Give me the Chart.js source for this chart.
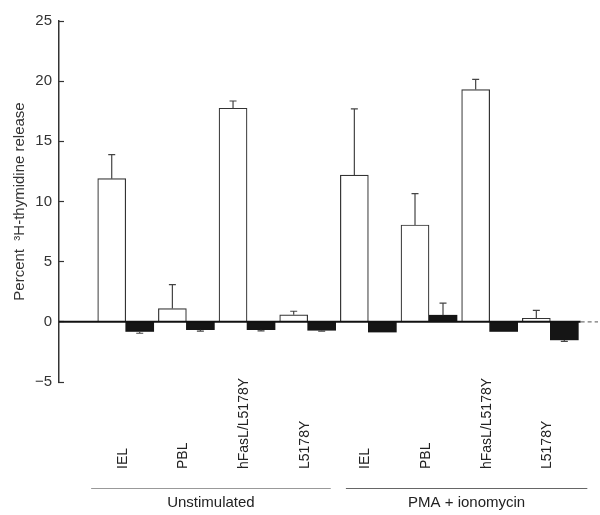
<!DOCTYPE html>
<html>
<head>
<meta charset="utf-8">
<script src="https://cdn.jsdelivr.net/npm/chart.js@4"></script>
<style>
  body { margin: 0; background: #fff; }
  #wrap { width: 600px; height: 515px; }
</style>
</head>
<body>
<div id="wrap"><canvas id="chart"></canvas></div>
<script>
const categories = ['IEL', 'PBL', 'hFasL/L5178Y', 'L5178Y', 'IEL', 'PBL', 'hFasL/L5178Y', 'L5178Y'];
const groups = ['Unstimulated', 'PMA + ionomycin'];
const groupSpans = [[-0.57, 3.38], [3.63, 7.61]];   // in category units
const whiteValues = [11.9, 1.1, 17.75, 0.58, 12.2, 8.05, 19.3, 0.3];
const whiteErr    = [2.0, 2.0, 0.6, 0.3, 5.5, 2.6, 0.85, 0.65];
const blackValues = [-0.8, -0.65, -0.65, -0.7, -0.85, 0.55, -0.8, -1.5];
const blackErr    = [0.15, 0.12, 0.1, 0.07, 0, 1.0, 0, 0.13];
const yTicks = [-5, 0, 5, 10, 15, 20, 25];

const xMin = -1.1, xMax = 7.786, dashFrom = 7.5;
const FONT = "'Liberation Sans', Arial, Helvetica, sans-serif";
Chart.defaults.font.family = FONT;

const toPoints = vals => vals.map((v, i) => ({ x: i, y: v }));

// error bars, one-sided away from zero
const errorBars = {
  id: 'errorBars',
  afterDatasetsDraw(chart) {
    const ctx = chart.ctx, y = chart.scales.y;
    chart.data.datasets.forEach((ds, di) => {
      if (!ds.errors) return;
      chart.getDatasetMeta(di).data.forEach((bar, i) => {
        const v = ds.data[i].y, e = ds.errors[i];
        if (!e) return;
        const yEnd = y.getPixelForValue(v + (v < 0 ? -e : e));
        ctx.save();
        ctx.strokeStyle = '#444';
        ctx.lineWidth = 1.2;
        ctx.beginPath();
        ctx.moveTo(bar.x, bar.y);
        ctx.lineTo(bar.x, yEnd);
        ctx.moveTo(bar.x - 3.5, yEnd);
        ctx.lineTo(bar.x + 3.5, yEnd);
        ctx.stroke();
        ctx.restore();
      });
    });
  }
};

// rotated category names, group lines and group names under the plot
const bottomLabels = {
  id: 'bottomLabels',
  afterDraw(chart) {
    const ctx = chart.ctx, x = chart.scales.x;
    ctx.save();
    ctx.fillStyle = '#222';
    ctx.font = '14px ' + FONT;
    ctx.textAlign = 'left';
    ctx.textBaseline = 'middle';
    categories.forEach((c, i) => {
      ctx.save();
      ctx.translate(x.getPixelForValue(i) - 3, 469);
      ctx.rotate(-Math.PI / 2);
      ctx.fillText(c, 0, 0);
      ctx.restore();
    });
    ctx.font = '15px ' + FONT;
    ctx.textAlign = 'center';
    groups.forEach((g, i) => {
      const x0 = x.getPixelForValue(groupSpans[i][0]);
      const x1 = x.getPixelForValue(groupSpans[i][1]);
      ctx.strokeStyle = i === 0 ? '#999' : '#666';
      ctx.lineWidth = 1.2;
      ctx.beginPath();
      ctx.moveTo(x0, 488.5);
      ctx.lineTo(x1, 488.5);
      ctx.stroke();
      ctx.fillText(g, (x0 + x1) / 2, 503);
    });
    ctx.restore();
  }
};

new Chart(document.getElementById('chart'), {
  type: 'bar',
  data: {
    datasets: [
      {
        data: toPoints(whiteValues),
        errors: whiteErr,
        backgroundColor: '#fff',
        borderColor: '#333',
        borderWidth: 1.2,
        barThickness: 28
      },
      {
        data: toPoints(blackValues),
        errors: blackErr,
        backgroundColor: '#151515',
        borderWidth: 0,
        barThickness: 28
      },
      {
        type: 'line',
        order: -1,
        data: [{ x: xMin, y: 0 }, { x: dashFrom, y: 0 }, { x: xMax, y: 0 }],
        borderColor: '#111',
        borderWidth: 2,
        pointRadius: 0,
        segment: {
          borderDash: c => c.p0DataIndex === 1 ? [4, 3] : undefined,
          borderWidth: c => c.p0DataIndex === 1 ? 1.2 : undefined,
          borderColor: c => c.p0DataIndex === 1 ? '#777' : undefined
        }
      }
    ]
  },
  options: {
    responsive: true,
    maintainAspectRatio: false,
    animation: false,
    layout: { padding: { top: 20, right: 2, bottom: 133, left: 0 } },
    plugins: { legend: { display: false }, tooltip: { enabled: false } },
    scales: {
      x: {
        type: 'linear',
        display: false,
        offset: false,
        min: xMin,
        max: xMax,
        ticks: { stepSize: 1, includeBounds: false }
      },
      y: {
        min: -5,
        max: 25,
        afterBuildTicks: s => { s.ticks = yTicks.map(v => ({ value: v })); },
        afterFit: s => { s.width = 59; },
        ticks: {
          color: '#333',
          font: { size: 15 },
          padding: 12,
          callback: v => String(v).replace('-', '\u2212')
        },
        grid: { drawOnChartArea: false, tickLength: -5, tickColor: '#333', tickWidth: 1.2 },
        border: { color: '#333', width: 1.5 },
        title: {
          display: true,
          text: 'Percent  \u00B3H-thymidine release',
          color: '#333',
          font: { size: 15 },
          padding: { top: 11, bottom: 0 }
        }
      }
    }
  },
  plugins: [errorBars, bottomLabels]
});
</script>
</body>
</html>
